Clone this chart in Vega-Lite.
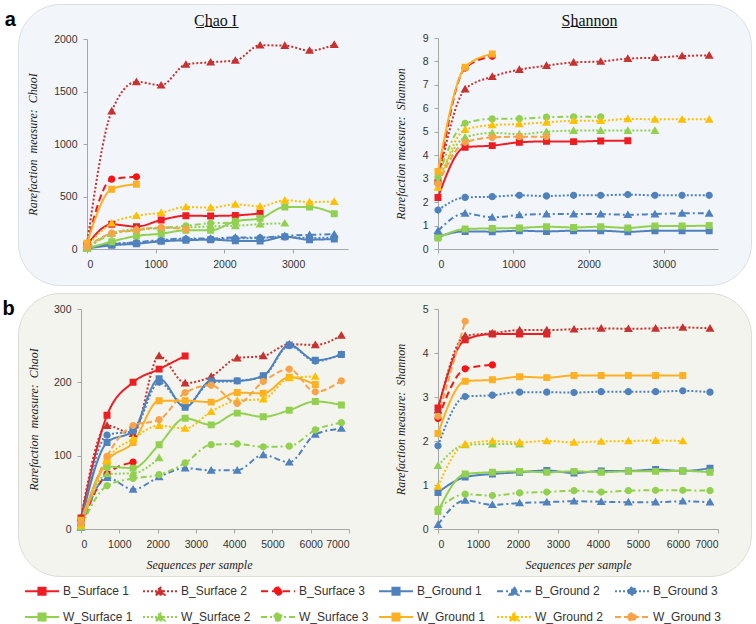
{
  "$schema": "https://vega.github.io/schema/vega-lite/v6.json",
  "padding": {"left": 2, "top": 3, "right": 0, "bottom": 4},
  "background": "white",
  "config": {
    "font": "Liberation Sans",
    "axis": {"grid": false, "domainColor": "#A6A6A6", "tickColor": "#A6A6A6", "tickSize": 4, "labelFont": "Liberation Sans", "labelFontSize": 10.5, "labelColor": "#333333", "labelPadding": 6, "titleFont": "Liberation Serif", "titleFontStyle": "italic", "titleFontWeight": "normal", "titleFontSize": 12, "titleColor": "#222222"},
    "title": {"font": "Liberation Sans", "fontSize": 20, "fontWeight": "bold", "color": "#000000"}
  },
  "data": {"values": [
    {"p":"aC","s":"B_Surface 1","x":0,"y":40},{"p":"aC","s":"B_Surface 1","x":360,"y":235},{"p":"aC","s":"B_Surface 1","x":720,"y":213},{"p":"aC","s":"B_Surface 1","x":1080,"y":276},{"p":"aC","s":"B_Surface 1","x":1440,"y":317},{"p":"aC","s":"B_Surface 1","x":1800,"y":315},{"p":"aC","s":"B_Surface 1","x":2160,"y":320},{"p":"aC","s":"B_Surface 1","x":2520,"y":338},
    {"p":"aC","s":"B_Surface 2","x":0,"y":45},{"p":"aC","s":"B_Surface 2","x":360,"y":1313},{"p":"aC","s":"B_Surface 2","x":720,"y":1592},{"p":"aC","s":"B_Surface 2","x":1080,"y":1560},{"p":"aC","s":"B_Surface 2","x":1440,"y":1757},{"p":"aC","s":"B_Surface 2","x":1800,"y":1779},{"p":"aC","s":"B_Surface 2","x":2160,"y":1795},{"p":"aC","s":"B_Surface 2","x":2520,"y":1940},{"p":"aC","s":"B_Surface 2","x":2880,"y":1937},{"p":"aC","s":"B_Surface 2","x":3240,"y":1890},{"p":"aC","s":"B_Surface 2","x":3600,"y":1946},
    {"p":"aC","s":"B_Surface 3","x":0,"y":50},{"p":"aC","s":"B_Surface 3","x":360,"y":665},{"p":"aC","s":"B_Surface 3","x":720,"y":687},
    {"p":"aC","s":"B_Ground 1","x":0,"y":5},{"p":"aC","s":"B_Ground 1","x":360,"y":35},{"p":"aC","s":"B_Ground 1","x":720,"y":50},{"p":"aC","s":"B_Ground 1","x":1080,"y":73},{"p":"aC","s":"B_Ground 1","x":1440,"y":83},{"p":"aC","s":"B_Ground 1","x":1800,"y":89},{"p":"aC","s":"B_Ground 1","x":2160,"y":78},{"p":"aC","s":"B_Ground 1","x":2520,"y":75},{"p":"aC","s":"B_Ground 1","x":2880,"y":117},{"p":"aC","s":"B_Ground 1","x":3240,"y":89},{"p":"aC","s":"B_Ground 1","x":3600,"y":95},
    {"p":"aC","s":"B_Ground 2","x":0,"y":8},{"p":"aC","s":"B_Ground 2","x":360,"y":45},{"p":"aC","s":"B_Ground 2","x":720,"y":65},{"p":"aC","s":"B_Ground 2","x":1080,"y":85},{"p":"aC","s":"B_Ground 2","x":1440,"y":100},{"p":"aC","s":"B_Ground 2","x":1800,"y":100},{"p":"aC","s":"B_Ground 2","x":2160,"y":110},{"p":"aC","s":"B_Ground 2","x":2520,"y":110},{"p":"aC","s":"B_Ground 2","x":2880,"y":125},{"p":"aC","s":"B_Ground 2","x":3240,"y":135},{"p":"aC","s":"B_Ground 2","x":3600,"y":140},
    {"p":"aC","s":"B_Ground 3","x":0,"y":10},{"p":"aC","s":"B_Ground 3","x":360,"y":50},{"p":"aC","s":"B_Ground 3","x":720,"y":60},{"p":"aC","s":"B_Ground 3","x":1080,"y":80},{"p":"aC","s":"B_Ground 3","x":1440,"y":95},{"p":"aC","s":"B_Ground 3","x":1800,"y":95},{"p":"aC","s":"B_Ground 3","x":2160,"y":100},{"p":"aC","s":"B_Ground 3","x":2520,"y":105},{"p":"aC","s":"B_Ground 3","x":2880,"y":115},{"p":"aC","s":"B_Ground 3","x":3240,"y":105},{"p":"aC","s":"B_Ground 3","x":3600,"y":110},
    {"p":"aC","s":"W_Surface 1","x":0,"y":5},{"p":"aC","s":"W_Surface 1","x":360,"y":70},{"p":"aC","s":"W_Surface 1","x":720,"y":124},{"p":"aC","s":"W_Surface 1","x":1080,"y":146},{"p":"aC","s":"W_Surface 1","x":1440,"y":178},{"p":"aC","s":"W_Surface 1","x":1800,"y":178},{"p":"aC","s":"W_Surface 1","x":2160,"y":264},{"p":"aC","s":"W_Surface 1","x":2520,"y":292},{"p":"aC","s":"W_Surface 1","x":2880,"y":400},{"p":"aC","s":"W_Surface 1","x":3240,"y":400},{"p":"aC","s":"W_Surface 1","x":3600,"y":336},
    {"p":"aC","s":"W_Surface 2","x":0,"y":10},{"p":"aC","s":"W_Surface 2","x":360,"y":150},{"p":"aC","s":"W_Surface 2","x":720,"y":190},{"p":"aC","s":"W_Surface 2","x":1080,"y":200},{"p":"aC","s":"W_Surface 2","x":1440,"y":205},{"p":"aC","s":"W_Surface 2","x":1800,"y":215},{"p":"aC","s":"W_Surface 2","x":2160,"y":220},{"p":"aC","s":"W_Surface 2","x":2520,"y":237},{"p":"aC","s":"W_Surface 2","x":2880,"y":245},
    {"p":"aC","s":"W_Surface 3","x":0,"y":10},{"p":"aC","s":"W_Surface 3","x":360,"y":140},{"p":"aC","s":"W_Surface 3","x":720,"y":180},{"p":"aC","s":"W_Surface 3","x":1080,"y":200},{"p":"aC","s":"W_Surface 3","x":1440,"y":220},{"p":"aC","s":"W_Surface 3","x":1800,"y":245},{"p":"aC","s":"W_Surface 3","x":2160,"y":250},
    {"p":"aC","s":"W_Ground 1","x":0,"y":55},{"p":"aC","s":"W_Ground 1","x":360,"y":570},{"p":"aC","s":"W_Ground 1","x":720,"y":617},
    {"p":"aC","s":"W_Ground 2","x":0,"y":30},{"p":"aC","s":"W_Ground 2","x":360,"y":245},{"p":"aC","s":"W_Ground 2","x":720,"y":317},{"p":"aC","s":"W_Ground 2","x":1080,"y":346},{"p":"aC","s":"W_Ground 2","x":1440,"y":400},{"p":"aC","s":"W_Ground 2","x":1800,"y":394},{"p":"aC","s":"W_Ground 2","x":2160,"y":425},{"p":"aC","s":"W_Ground 2","x":2520,"y":406},{"p":"aC","s":"W_Ground 2","x":2880,"y":463},{"p":"aC","s":"W_Ground 2","x":3240,"y":448},{"p":"aC","s":"W_Ground 2","x":3600,"y":451},
    {"p":"aC","s":"W_Ground 3","x":0,"y":20},{"p":"aC","s":"W_Ground 3","x":360,"y":150},{"p":"aC","s":"W_Ground 3","x":720,"y":181},{"p":"aC","s":"W_Ground 3","x":1080,"y":204},{"p":"aC","s":"W_Ground 3","x":1440,"y":188},

    {"p":"aS","s":"B_Surface 1","x":0,"y":2.2},{"p":"aS","s":"B_Surface 1","x":360,"y":4.34},{"p":"aS","s":"B_Surface 1","x":720,"y":4.41},{"p":"aS","s":"B_Surface 1","x":1080,"y":4.55},{"p":"aS","s":"B_Surface 1","x":1440,"y":4.59},{"p":"aS","s":"B_Surface 1","x":1800,"y":4.58},{"p":"aS","s":"B_Surface 1","x":2160,"y":4.61},{"p":"aS","s":"B_Surface 1","x":2520,"y":4.62},
    {"p":"aS","s":"B_Surface 2","x":0,"y":2.9},{"p":"aS","s":"B_Surface 2","x":360,"y":6.82},{"p":"aS","s":"B_Surface 2","x":720,"y":7.35},{"p":"aS","s":"B_Surface 2","x":1080,"y":7.65},{"p":"aS","s":"B_Surface 2","x":1440,"y":7.82},{"p":"aS","s":"B_Surface 2","x":1800,"y":7.96},{"p":"aS","s":"B_Surface 2","x":2160,"y":8.0},{"p":"aS","s":"B_Surface 2","x":2520,"y":8.12},{"p":"aS","s":"B_Surface 2","x":2880,"y":8.16},{"p":"aS","s":"B_Surface 2","x":3240,"y":8.23},{"p":"aS","s":"B_Surface 2","x":3600,"y":8.26},
    {"p":"aS","s":"B_Surface 3","x":0,"y":2.9},{"p":"aS","s":"B_Surface 3","x":360,"y":7.72},{"p":"aS","s":"B_Surface 3","x":720,"y":8.22},
    {"p":"aS","s":"B_Ground 1","x":0,"y":0.53},{"p":"aS","s":"B_Ground 1","x":360,"y":0.75},{"p":"aS","s":"B_Ground 1","x":720,"y":0.74},{"p":"aS","s":"B_Ground 1","x":1080,"y":0.78},{"p":"aS","s":"B_Ground 1","x":1440,"y":0.75},{"p":"aS","s":"B_Ground 1","x":1800,"y":0.78},{"p":"aS","s":"B_Ground 1","x":2160,"y":0.78},{"p":"aS","s":"B_Ground 1","x":2520,"y":0.73},{"p":"aS","s":"B_Ground 1","x":2880,"y":0.78},{"p":"aS","s":"B_Ground 1","x":3240,"y":0.78},{"p":"aS","s":"B_Ground 1","x":3600,"y":0.78},
    {"p":"aS","s":"B_Ground 2","x":0,"y":0.78},{"p":"aS","s":"B_Ground 2","x":360,"y":1.52},{"p":"aS","s":"B_Ground 2","x":720,"y":1.35},{"p":"aS","s":"B_Ground 2","x":1080,"y":1.45},{"p":"aS","s":"B_Ground 2","x":1440,"y":1.49},{"p":"aS","s":"B_Ground 2","x":1800,"y":1.49},{"p":"aS","s":"B_Ground 2","x":2160,"y":1.49},{"p":"aS","s":"B_Ground 2","x":2520,"y":1.46},{"p":"aS","s":"B_Ground 2","x":2880,"y":1.49},{"p":"aS","s":"B_Ground 2","x":3240,"y":1.52},{"p":"aS","s":"B_Ground 2","x":3600,"y":1.52},
    {"p":"aS","s":"B_Ground 3","x":0,"y":1.66},{"p":"aS","s":"B_Ground 3","x":360,"y":2.2},{"p":"aS","s":"B_Ground 3","x":720,"y":2.23},{"p":"aS","s":"B_Ground 3","x":1080,"y":2.29},{"p":"aS","s":"B_Ground 3","x":1440,"y":2.26},{"p":"aS","s":"B_Ground 3","x":1800,"y":2.29},{"p":"aS","s":"B_Ground 3","x":2160,"y":2.29},{"p":"aS","s":"B_Ground 3","x":2520,"y":2.32},{"p":"aS","s":"B_Ground 3","x":2880,"y":2.29},{"p":"aS","s":"B_Ground 3","x":3240,"y":2.29},{"p":"aS","s":"B_Ground 3","x":3600,"y":2.29},
    {"p":"aS","s":"W_Surface 1","x":0,"y":0.47},{"p":"aS","s":"W_Surface 1","x":360,"y":0.85},{"p":"aS","s":"W_Surface 1","x":720,"y":0.88},{"p":"aS","s":"W_Surface 1","x":1080,"y":0.9},{"p":"aS","s":"W_Surface 1","x":1440,"y":0.95},{"p":"aS","s":"W_Surface 1","x":1800,"y":0.92},{"p":"aS","s":"W_Surface 1","x":2160,"y":0.95},{"p":"aS","s":"W_Surface 1","x":2520,"y":0.9},{"p":"aS","s":"W_Surface 1","x":2880,"y":0.98},{"p":"aS","s":"W_Surface 1","x":3240,"y":0.98},{"p":"aS","s":"W_Surface 1","x":3600,"y":1.0},
    {"p":"aS","s":"W_Surface 2","x":0,"y":2.9},{"p":"aS","s":"W_Surface 2","x":360,"y":4.76},{"p":"aS","s":"W_Surface 2","x":720,"y":4.95},{"p":"aS","s":"W_Surface 2","x":1080,"y":4.9},{"p":"aS","s":"W_Surface 2","x":1440,"y":5.0},{"p":"aS","s":"W_Surface 2","x":1800,"y":5.05},{"p":"aS","s":"W_Surface 2","x":2160,"y":5.05},{"p":"aS","s":"W_Surface 2","x":2520,"y":5.05},{"p":"aS","s":"W_Surface 2","x":2880,"y":5.05},
    {"p":"aS","s":"W_Surface 3","x":0,"y":3.06},{"p":"aS","s":"W_Surface 3","x":360,"y":5.36},{"p":"aS","s":"W_Surface 3","x":720,"y":5.55},{"p":"aS","s":"W_Surface 3","x":1080,"y":5.56},{"p":"aS","s":"W_Surface 3","x":1440,"y":5.62},{"p":"aS","s":"W_Surface 3","x":1800,"y":5.64},{"p":"aS","s":"W_Surface 3","x":2160,"y":5.64},
    {"p":"aS","s":"W_Ground 1","x":0,"y":3.31},{"p":"aS","s":"W_Ground 1","x":360,"y":7.75},{"p":"aS","s":"W_Ground 1","x":720,"y":8.32},
    {"p":"aS","s":"W_Ground 2","x":0,"y":2.63},{"p":"aS","s":"W_Ground 2","x":360,"y":5.09},{"p":"aS","s":"W_Ground 2","x":720,"y":5.29},{"p":"aS","s":"W_Ground 2","x":1080,"y":5.33},{"p":"aS","s":"W_Ground 2","x":1440,"y":5.4},{"p":"aS","s":"W_Ground 2","x":1800,"y":5.47},{"p":"aS","s":"W_Ground 2","x":2160,"y":5.47},{"p":"aS","s":"W_Ground 2","x":2520,"y":5.55},{"p":"aS","s":"W_Ground 2","x":2880,"y":5.53},{"p":"aS","s":"W_Ground 2","x":3240,"y":5.53},{"p":"aS","s":"W_Ground 2","x":3600,"y":5.53},
    {"p":"aS","s":"W_Ground 3","x":0,"y":2.77},{"p":"aS","s":"W_Ground 3","x":360,"y":4.55},{"p":"aS","s":"W_Ground 3","x":720,"y":4.76},{"p":"aS","s":"W_Ground 3","x":1080,"y":4.79},{"p":"aS","s":"W_Ground 3","x":1440,"y":4.79},

    {"p":"bC","s":"B_Surface 1","x":0,"y":15},{"p":"bC","s":"B_Surface 1","x":680,"y":155},{"p":"bC","s":"B_Surface 1","x":1360,"y":200},{"p":"bC","s":"B_Surface 1","x":2040,"y":218},{"p":"bC","s":"B_Surface 1","x":2720,"y":236},
    {"p":"bC","s":"B_Surface 2","x":0,"y":15},{"p":"bC","s":"B_Surface 2","x":680,"y":141},{"p":"bC","s":"B_Surface 2","x":1360,"y":130},{"p":"bC","s":"B_Surface 2","x":2040,"y":236},{"p":"bC","s":"B_Surface 2","x":2720,"y":199},{"p":"bC","s":"B_Surface 2","x":3400,"y":208},{"p":"bC","s":"B_Surface 2","x":4080,"y":233},{"p":"bC","s":"B_Surface 2","x":4760,"y":236},{"p":"bC","s":"B_Surface 2","x":5440,"y":252},{"p":"bC","s":"B_Surface 2","x":6120,"y":251},{"p":"bC","s":"B_Surface 2","x":6800,"y":264},
    {"p":"bC","s":"B_Surface 3","x":0,"y":5},{"p":"bC","s":"B_Surface 3","x":680,"y":75},{"p":"bC","s":"B_Surface 3","x":1360,"y":91},
    {"p":"bC","s":"B_Ground 1","x":0,"y":10},{"p":"bC","s":"B_Ground 1","x":680,"y":118},{"p":"bC","s":"B_Ground 1","x":1360,"y":134},{"p":"bC","s":"B_Ground 1","x":2040,"y":205},{"p":"bC","s":"B_Ground 1","x":2720,"y":166},{"p":"bC","s":"B_Ground 1","x":3400,"y":202},{"p":"bC","s":"B_Ground 1","x":4080,"y":202},{"p":"bC","s":"B_Ground 1","x":4760,"y":209},{"p":"bC","s":"B_Ground 1","x":5440,"y":251},{"p":"bC","s":"B_Ground 1","x":6120,"y":230},{"p":"bC","s":"B_Ground 1","x":6800,"y":238},
    {"p":"bC","s":"B_Ground 2","x":0,"y":2},{"p":"bC","s":"B_Ground 2","x":680,"y":70},{"p":"bC","s":"B_Ground 2","x":1360,"y":54},{"p":"bC","s":"B_Ground 2","x":2040,"y":71},{"p":"bC","s":"B_Ground 2","x":2720,"y":83},{"p":"bC","s":"B_Ground 2","x":3400,"y":80},{"p":"bC","s":"B_Ground 2","x":4080,"y":80},{"p":"bC","s":"B_Ground 2","x":4760,"y":101},{"p":"bC","s":"B_Ground 2","x":5440,"y":91},{"p":"bC","s":"B_Ground 2","x":6120,"y":129},{"p":"bC","s":"B_Ground 2","x":6800,"y":137},
    {"p":"bC","s":"B_Ground 3","x":0,"y":5},{"p":"bC","s":"B_Ground 3","x":680,"y":128},{"p":"bC","s":"B_Ground 3","x":1360,"y":134},{"p":"bC","s":"B_Ground 3","x":2040,"y":200},{"p":"bC","s":"B_Ground 3","x":2720,"y":168},{"p":"bC","s":"B_Ground 3","x":3400,"y":200},{"p":"bC","s":"B_Ground 3","x":4080,"y":202},{"p":"bC","s":"B_Ground 3","x":4760,"y":208},{"p":"bC","s":"B_Ground 3","x":5440,"y":250},{"p":"bC","s":"B_Ground 3","x":6120,"y":229},{"p":"bC","s":"B_Ground 3","x":6800,"y":238},
    {"p":"bC","s":"W_Surface 1","x":0,"y":3},{"p":"bC","s":"W_Surface 1","x":680,"y":85},{"p":"bC","s":"W_Surface 1","x":1360,"y":83},{"p":"bC","s":"W_Surface 1","x":2040,"y":115},{"p":"bC","s":"W_Surface 1","x":2720,"y":151},{"p":"bC","s":"W_Surface 1","x":3400,"y":142},{"p":"bC","s":"W_Surface 1","x":4080,"y":158},{"p":"bC","s":"W_Surface 1","x":4760,"y":153},{"p":"bC","s":"W_Surface 1","x":5440,"y":162},{"p":"bC","s":"W_Surface 1","x":6120,"y":174},{"p":"bC","s":"W_Surface 1","x":6800,"y":169},
    {"p":"bC","s":"W_Surface 2","x":0,"y":3},{"p":"bC","s":"W_Surface 2","x":680,"y":75},{"p":"bC","s":"W_Surface 2","x":1360,"y":76},{"p":"bC","s":"W_Surface 2","x":2040,"y":97},
    {"p":"bC","s":"W_Surface 3","x":0,"y":3},{"p":"bC","s":"W_Surface 3","x":680,"y":59},{"p":"bC","s":"W_Surface 3","x":1360,"y":69},{"p":"bC","s":"W_Surface 3","x":2040,"y":74},{"p":"bC","s":"W_Surface 3","x":2720,"y":90},{"p":"bC","s":"W_Surface 3","x":3400,"y":115},{"p":"bC","s":"W_Surface 3","x":4080,"y":116},{"p":"bC","s":"W_Surface 3","x":4760,"y":112},{"p":"bC","s":"W_Surface 3","x":5440,"y":113},{"p":"bC","s":"W_Surface 3","x":6120,"y":135},{"p":"bC","s":"W_Surface 3","x":6800,"y":145},
    {"p":"bC","s":"W_Ground 1","x":0,"y":12},{"p":"bC","s":"W_Ground 1","x":680,"y":92},{"p":"bC","s":"W_Ground 1","x":1360,"y":118},{"p":"bC","s":"W_Ground 1","x":2040,"y":175},{"p":"bC","s":"W_Ground 1","x":2720,"y":175},{"p":"bC","s":"W_Ground 1","x":3400,"y":173},{"p":"bC","s":"W_Ground 1","x":4080,"y":186},{"p":"bC","s":"W_Ground 1","x":4760,"y":185},{"p":"bC","s":"W_Ground 1","x":5440,"y":207},{"p":"bC","s":"W_Ground 1","x":6120,"y":197},
    {"p":"bC","s":"W_Ground 2","x":0,"y":5},{"p":"bC","s":"W_Ground 2","x":680,"y":94},{"p":"bC","s":"W_Ground 2","x":1360,"y":123},{"p":"bC","s":"W_Ground 2","x":2040,"y":141},{"p":"bC","s":"W_Ground 2","x":2720,"y":137},{"p":"bC","s":"W_Ground 2","x":3400,"y":160},{"p":"bC","s":"W_Ground 2","x":4080,"y":175},{"p":"bC","s":"W_Ground 2","x":4760,"y":177},{"p":"bC","s":"W_Ground 2","x":5440,"y":206},{"p":"bC","s":"W_Ground 2","x":6120,"y":208},
    {"p":"bC","s":"W_Ground 3","x":0,"y":8},{"p":"bC","s":"W_Ground 3","x":680,"y":99},{"p":"bC","s":"W_Ground 3","x":1360,"y":141},{"p":"bC","s":"W_Ground 3","x":2040,"y":149},{"p":"bC","s":"W_Ground 3","x":2720,"y":186},{"p":"bC","s":"W_Ground 3","x":3400,"y":196},{"p":"bC","s":"W_Ground 3","x":4080,"y":171},{"p":"bC","s":"W_Ground 3","x":4760,"y":201},{"p":"bC","s":"W_Ground 3","x":5440,"y":218},{"p":"bC","s":"W_Ground 3","x":6120,"y":187},{"p":"bC","s":"W_Ground 3","x":6800,"y":202},

    {"p":"bS","s":"B_Surface 1","x":0,"y":2.75},{"p":"bS","s":"B_Surface 1","x":680,"y":4.3},{"p":"bS","s":"B_Surface 1","x":1360,"y":4.43},{"p":"bS","s":"B_Surface 1","x":2040,"y":4.43},{"p":"bS","s":"B_Surface 1","x":2720,"y":4.43},
    {"p":"bS","s":"B_Surface 2","x":0,"y":2.7},{"p":"bS","s":"B_Surface 2","x":680,"y":4.39},{"p":"bS","s":"B_Surface 2","x":1360,"y":4.45},{"p":"bS","s":"B_Surface 2","x":2040,"y":4.52},{"p":"bS","s":"B_Surface 2","x":2720,"y":4.52},{"p":"bS","s":"B_Surface 2","x":3400,"y":4.54},{"p":"bS","s":"B_Surface 2","x":4080,"y":4.56},{"p":"bS","s":"B_Surface 2","x":4760,"y":4.55},{"p":"bS","s":"B_Surface 2","x":5440,"y":4.56},{"p":"bS","s":"B_Surface 2","x":6120,"y":4.58},{"p":"bS","s":"B_Surface 2","x":6800,"y":4.56},
    {"p":"bS","s":"B_Surface 3","x":0,"y":2.51},{"p":"bS","s":"B_Surface 3","x":680,"y":3.64},{"p":"bS","s":"B_Surface 3","x":1360,"y":3.73},
    {"p":"bS","s":"B_Ground 1","x":0,"y":0.83},{"p":"bS","s":"B_Ground 1","x":680,"y":1.18},{"p":"bS","s":"B_Ground 1","x":1360,"y":1.25},{"p":"bS","s":"B_Ground 1","x":2040,"y":1.29},{"p":"bS","s":"B_Ground 1","x":2720,"y":1.33},{"p":"bS","s":"B_Ground 1","x":3400,"y":1.27},{"p":"bS","s":"B_Ground 1","x":4080,"y":1.32},{"p":"bS","s":"B_Ground 1","x":4760,"y":1.32},{"p":"bS","s":"B_Ground 1","x":5440,"y":1.35},{"p":"bS","s":"B_Ground 1","x":6120,"y":1.32},{"p":"bS","s":"B_Ground 1","x":6800,"y":1.38},
    {"p":"bS","s":"B_Ground 2","x":0,"y":0.1},{"p":"bS","s":"B_Ground 2","x":680,"y":0.65},{"p":"bS","s":"B_Ground 2","x":1360,"y":0.55},{"p":"bS","s":"B_Ground 2","x":2040,"y":0.59},{"p":"bS","s":"B_Ground 2","x":2720,"y":0.61},{"p":"bS","s":"B_Ground 2","x":3400,"y":0.63},{"p":"bS","s":"B_Ground 2","x":4080,"y":0.62},{"p":"bS","s":"B_Ground 2","x":4760,"y":0.61},{"p":"bS","s":"B_Ground 2","x":5440,"y":0.61},{"p":"bS","s":"B_Ground 2","x":6120,"y":0.63},{"p":"bS","s":"B_Ground 2","x":6800,"y":0.61},
    {"p":"bS","s":"B_Ground 3","x":0,"y":1.89},{"p":"bS","s":"B_Ground 3","x":680,"y":3.01},{"p":"bS","s":"B_Ground 3","x":1360,"y":3.04},{"p":"bS","s":"B_Ground 3","x":2040,"y":3.11},{"p":"bS","s":"B_Ground 3","x":2720,"y":3.11},{"p":"bS","s":"B_Ground 3","x":3400,"y":3.1},{"p":"bS","s":"B_Ground 3","x":4080,"y":3.12},{"p":"bS","s":"B_Ground 3","x":4760,"y":3.12},{"p":"bS","s":"B_Ground 3","x":5440,"y":3.12},{"p":"bS","s":"B_Ground 3","x":6120,"y":3.14},{"p":"bS","s":"B_Ground 3","x":6800,"y":3.11},
    {"p":"bS","s":"W_Surface 1","x":0,"y":0.4},{"p":"bS","s":"W_Surface 1","x":680,"y":1.25},{"p":"bS","s":"W_Surface 1","x":1360,"y":1.29},{"p":"bS","s":"W_Surface 1","x":2040,"y":1.31},{"p":"bS","s":"W_Surface 1","x":2720,"y":1.29},{"p":"bS","s":"W_Surface 1","x":3400,"y":1.31},{"p":"bS","s":"W_Surface 1","x":4080,"y":1.29},{"p":"bS","s":"W_Surface 1","x":4760,"y":1.31},{"p":"bS","s":"W_Surface 1","x":5440,"y":1.31},{"p":"bS","s":"W_Surface 1","x":6120,"y":1.32},{"p":"bS","s":"W_Surface 1","x":6800,"y":1.29},
    {"p":"bS","s":"W_Surface 2","x":0,"y":1.44},{"p":"bS","s":"W_Surface 2","x":680,"y":1.91},{"p":"bS","s":"W_Surface 2","x":1360,"y":1.93},{"p":"bS","s":"W_Surface 2","x":2040,"y":1.93},
    {"p":"bS","s":"W_Surface 3","x":0,"y":0.45},{"p":"bS","s":"W_Surface 3","x":680,"y":0.79},{"p":"bS","s":"W_Surface 3","x":1360,"y":0.76},{"p":"bS","s":"W_Surface 3","x":2040,"y":0.82},{"p":"bS","s":"W_Surface 3","x":2720,"y":0.84},{"p":"bS","s":"W_Surface 3","x":3400,"y":0.87},{"p":"bS","s":"W_Surface 3","x":4080,"y":0.84},{"p":"bS","s":"W_Surface 3","x":4760,"y":0.87},{"p":"bS","s":"W_Surface 3","x":5440,"y":0.88},{"p":"bS","s":"W_Surface 3","x":6120,"y":0.88},{"p":"bS","s":"W_Surface 3","x":6800,"y":0.87},
    {"p":"bS","s":"W_Ground 1","x":0,"y":2.17},{"p":"bS","s":"W_Ground 1","x":680,"y":3.36},{"p":"bS","s":"W_Ground 1","x":1360,"y":3.39},{"p":"bS","s":"W_Ground 1","x":2040,"y":3.46},{"p":"bS","s":"W_Ground 1","x":2720,"y":3.44},{"p":"bS","s":"W_Ground 1","x":3400,"y":3.49},{"p":"bS","s":"W_Ground 1","x":4080,"y":3.49},{"p":"bS","s":"W_Ground 1","x":4760,"y":3.49},{"p":"bS","s":"W_Ground 1","x":5440,"y":3.49},{"p":"bS","s":"W_Ground 1","x":6120,"y":3.49},
    {"p":"bS","s":"W_Ground 2","x":0,"y":0.97},{"p":"bS","s":"W_Ground 2","x":680,"y":1.93},{"p":"bS","s":"W_Ground 2","x":1360,"y":2.0},{"p":"bS","s":"W_Ground 2","x":2040,"y":1.97},{"p":"bS","s":"W_Ground 2","x":2720,"y":2.0},{"p":"bS","s":"W_Ground 2","x":3400,"y":1.97},{"p":"bS","s":"W_Ground 2","x":4080,"y":1.99},{"p":"bS","s":"W_Ground 2","x":4760,"y":2.0},{"p":"bS","s":"W_Ground 2","x":5440,"y":2.01},{"p":"bS","s":"W_Ground 2","x":6120,"y":2.0},
    {"p":"bS","s":"W_Ground 3","x":0,"y":2.56},{"p":"bS","s":"W_Ground 3","x":680,"y":4.72}
  ]},
  "vconcat": [
    {
      "width": 733, "height": 281,
      "title": {"text": "a", "orient": "left", "anchor": "end", "angle": 0, "align": "right", "frame": "group", "dx": 0, "dy": 22, "offset": -9, "baseline": "alphabetic"},
      "view": {"fill": "#F2F6FA", "stroke": "#D9DFE6", "strokeWidth": 1, "cornerRadius": 42},
      "encoding": {
        "color": {"field": "s", "type": "nominal",
          "scale": {"domain": ["B_Surface 1","B_Surface 2","B_Surface 3","B_Ground 1","B_Ground 2","B_Ground 3","W_Surface 1","W_Surface 2","W_Surface 3","W_Ground 1","W_Ground 2","W_Ground 3"],
                    "range": ["#EE1D23","#C8312F","#F81414","#4F81BD","#4F81BD","#4F81BD","#92D050","#92D050","#92D050","#FDB022","#FFC000","#F8A348"]},
          "legend": {"orient": "none", "legendX": 6, "legendY": 569, "direction": "horizontal", "columns": 6, "gridAlign": "all", "columnPadding": 6, "rowPadding": -11, "title": null, "padding": 0, "labelFont": "Liberation Sans", "labelFontSize": 12, "labelColor": "#333333", "labelOffset": 3, "labelLimit": 200, "symbolSize": 1156, "symbolStrokeWidth": 2, "symbolOpacity": 1}
        },
        "shape": {"field": "s", "type": "nominal", "legend": null,
          "scale": {"domain": ["B_Surface 1","B_Surface 2","B_Surface 3","B_Ground 1","B_Ground 2","B_Ground 3","W_Surface 1","W_Surface 2","W_Surface 3","W_Ground 1","W_Ground 2","W_Ground 3"],
                    "range": ["M-1,0H1M-0.21,-0.21H0.21V0.21H-0.21Z","M-1,0H1M0,-0.26L0.27,0.2H-0.27Z","M-1,0H1M-0.22,0A0.22,0.22,0,1,1,0.22,0A0.22,0.22,0,1,1,-0.22,0Z","M-1,0H1M-0.21,-0.21H0.21V0.21H-0.21Z","M-1,0H1M0,-0.26L0.27,0.2H-0.27Z","M-1,0H1M-0.22,0A0.22,0.22,0,1,1,0.22,0A0.22,0.22,0,1,1,-0.22,0Z","M-1,0H1M-0.21,-0.21H0.21V0.21H-0.21Z","M-1,0H1M0,-0.26L0.27,0.2H-0.27Z","M-1,0H1M-0.22,0A0.22,0.22,0,1,1,0.22,0A0.22,0.22,0,1,1,-0.22,0Z","M-1,0H1M-0.21,-0.21H0.21V0.21H-0.21Z","M-1,0H1M0,-0.26L0.27,0.2H-0.27Z","M-1,0H1M-0.22,0A0.22,0.22,0,1,1,0.22,0A0.22,0.22,0,1,1,-0.22,0Z"]}},
        "strokeDash": {"field": "s", "type": "nominal", "legend": null,
          "scale": {"domain": ["B_Surface 1","B_Surface 2","B_Surface 3","B_Ground 1","B_Ground 2","B_Ground 3","W_Surface 1","W_Surface 2","W_Surface 3","W_Ground 1","W_Ground 2","W_Ground 3"],
                    "range": [[1,0],[2,2],[7,4],[1,0],[6,3,2,3],[2,2],[1,0],[2,2],[6,3,2,3],[1,0],[2,2],[6,3]]}}
      },
      "layer": [
        {
          "transform": [{"filter": "datum.p=='aC'"}],
          "encoding": {
            "x": {"field": "x", "type": "quantitative", "scale": {"domain": [0, 3800], "range": [69, 330], "nice": false, "zero": false},
                  "axis": {"orient": "bottom", "offset": -36, "values": [0, 1000, 2000, 3000], "format": "d", "title": "C\u0332h\u0332a\u0332o\u0332 \u0332I\u0332", "titleFont": "Liberation Serif", "titleFontStyle": "normal", "titleFontSize": 16, "titleColor": "#111111", "titleX": 197, "titleY": -224, "titleAlign": "center", "titleBaseline": "alphabetic"}},
            "y": {"field": "y", "type": "quantitative", "scale": {"domain": [0, 2000], "range": [245, 35], "nice": false},
                  "axis": {"orient": "left", "offset": -69, "values": [0, 500, 1000, 1500, 2000], "format": "d", "title": "Rarefaction\u00a0 measure:\u00a0 ChaoI", "titlePadding": 14}}
          },
          "layer": [
            {"mark": {"type": "line", "interpolate": "monotone", "strokeWidth": 2}},
            {"mark": {"type": "point", "filled": true, "size": 1100, "opacity": 1}}
          ]
        },
        {
          "transform": [{"filter": "datum.p=='aS'"}],
          "encoding": {
            "x": {"field": "x", "type": "quantitative", "scale": {"domain": [0, 3717], "range": [420, 700], "nice": false, "zero": false},
                  "axis": {"orient": "bottom", "offset": -36, "values": [0, 1000, 2000, 3000], "format": "d", "title": "S\u0332h\u0332a\u0332n\u0332n\u0332o\u0332n\u0332", "titleFont": "Liberation Serif", "titleFontStyle": "normal", "titleFontSize": 16, "titleColor": "#111111", "titleX": 571, "titleY": -224, "titleAlign": "center", "titleBaseline": "alphabetic"}},
            "y": {"field": "y", "type": "quantitative", "scale": {"domain": [0, 9], "range": [245, 34], "nice": false},
                  "axis": {"orient": "left", "offset": -420, "values": [0, 1, 2, 3, 4, 5, 6, 7, 8, 9], "title": "Rarefaction measure:\u00a0 Shannon", "titlePadding": 15}}
          },
          "layer": [
            {"mark": {"type": "line", "interpolate": "monotone", "strokeWidth": 2}},
            {"mark": {"type": "point", "filled": true, "size": 1100, "opacity": 1}}
          ]
        }
      ],
      "resolve": {"scale": {"x": "independent", "y": "independent"}, "axis": {"x": "independent", "y": "independent"}}
    },
    {
      "width": 733, "height": 283,
      "title": {"text": "b", "orient": "left", "anchor": "end", "angle": 0, "align": "right", "frame": "group", "dx": 0, "dy": 22, "offset": -9, "baseline": "alphabetic"},
      "view": {"fill": "#F4F4EE", "stroke": "#DDDDD6", "strokeWidth": 1, "cornerRadius": 42},
      "encoding": {
        "color": {"field": "s", "type": "nominal",
          "scale": {"domain": ["B_Surface 1","B_Surface 2","B_Surface 3","B_Ground 1","B_Ground 2","B_Ground 3","W_Surface 1","W_Surface 2","W_Surface 3","W_Ground 1","W_Ground 2","W_Ground 3"],
                    "range": ["#EE1D23","#C8312F","#F81414","#4F81BD","#4F81BD","#4F81BD","#92D050","#92D050","#92D050","#FDB022","#FFC000","#F8A348"]},
          "legend": {"orient": "none", "legendX": 6, "legendY": 569, "direction": "horizontal", "columns": 6, "gridAlign": "all", "columnPadding": 6, "rowPadding": -11, "title": null, "padding": 0, "labelFont": "Liberation Sans", "labelFontSize": 12, "labelColor": "#333333", "labelOffset": 3, "labelLimit": 200, "symbolSize": 1156, "symbolStrokeWidth": 2, "symbolOpacity": 1}
        },
        "shape": {"field": "s", "type": "nominal", "legend": null,
          "scale": {"domain": ["B_Surface 1","B_Surface 2","B_Surface 3","B_Ground 1","B_Ground 2","B_Ground 3","W_Surface 1","W_Surface 2","W_Surface 3","W_Ground 1","W_Ground 2","W_Ground 3"],
                    "range": ["M-1,0H1M-0.21,-0.21H0.21V0.21H-0.21Z","M-1,0H1M0,-0.26L0.27,0.2H-0.27Z","M-1,0H1M-0.22,0A0.22,0.22,0,1,1,0.22,0A0.22,0.22,0,1,1,-0.22,0Z","M-1,0H1M-0.21,-0.21H0.21V0.21H-0.21Z","M-1,0H1M0,-0.26L0.27,0.2H-0.27Z","M-1,0H1M-0.22,0A0.22,0.22,0,1,1,0.22,0A0.22,0.22,0,1,1,-0.22,0Z","M-1,0H1M-0.21,-0.21H0.21V0.21H-0.21Z","M-1,0H1M0,-0.26L0.27,0.2H-0.27Z","M-1,0H1M-0.22,0A0.22,0.22,0,1,1,0.22,0A0.22,0.22,0,1,1,-0.22,0Z","M-1,0H1M-0.21,-0.21H0.21V0.21H-0.21Z","M-1,0H1M0,-0.26L0.27,0.2H-0.27Z","M-1,0H1M-0.22,0A0.22,0.22,0,1,1,0.22,0A0.22,0.22,0,1,1,-0.22,0Z"]}},
        "strokeDash": {"field": "s", "type": "nominal", "legend": null,
          "scale": {"domain": ["B_Surface 1","B_Surface 2","B_Surface 3","B_Ground 1","B_Ground 2","B_Ground 3","W_Surface 1","W_Surface 2","W_Surface 3","W_Ground 1","W_Ground 2","W_Ground 3"],
                    "range": [[1,0],[2,2],[7,4],[1,0],[6,3,2,3],[2,2],[1,0],[2,2],[6,3,2,3],[1,0],[2,2],[6,3]]}}
      },
      "layer": [
        {
          "transform": [{"filter": "datum.p=='bC'"}],
          "encoding": {
            "x": {"field": "x", "type": "quantitative", "scale": {"domain": [0, 7000], "range": [63, 331], "nice": false, "zero": false},
                  "axis": {"orient": "bottom", "offset": -47, "values": [0, 1000, 2000, 3000, 4000, 5000, 6000, 7000], "format": "d", "title": "Sequences per sample", "titlePadding": 10, "titleX": 181, "titleAlign": "center"}},
            "y": {"field": "y", "type": "quantitative", "scale": {"domain": [0, 300], "range": [236, 16], "nice": false},
                  "axis": {"orient": "left", "offset": -63, "values": [0, 100, 200, 300], "title": "Rarefaction\u00a0 measure:\u00a0 ChaoI", "titlePadding": 13}}
          },
          "layer": [
            {"mark": {"type": "line", "interpolate": "monotone", "strokeWidth": 2}},
            {"mark": {"type": "point", "filled": true, "size": 1100, "opacity": 1}}
          ]
        },
        {
          "transform": [{"filter": "datum.p=='bS'"}],
          "encoding": {
            "x": {"field": "x", "type": "quantitative", "scale": {"domain": [0, 7000], "range": [420, 700], "nice": false, "zero": false},
                  "axis": {"orient": "bottom", "offset": -47, "values": [0, 1000, 2000, 3000, 4000, 5000, 6000, 7000], "format": "d", "title": "Sequences per sample", "titlePadding": 10}},
            "y": {"field": "y", "type": "quantitative", "scale": {"domain": [0, 5], "range": [236, 16], "nice": false},
                  "axis": {"orient": "left", "offset": -420, "values": [0, 1, 2, 3, 4, 5], "title": "Rarefaction measure:\u00a0 Shannon", "titlePadding": 15}}
          },
          "layer": [
            {"mark": {"type": "line", "interpolate": "monotone", "strokeWidth": 2}},
            {"mark": {"type": "point", "filled": true, "size": 1100, "opacity": 1}}
          ]
        }
      ],
      "resolve": {"scale": {"x": "independent", "y": "independent"}, "axis": {"x": "independent", "y": "independent"}}
    }
  ],
  "spacing": 6,
  "resolve": {"scale": {"color": "shared", "shape": "shared", "strokeDash": "shared"}}
}
